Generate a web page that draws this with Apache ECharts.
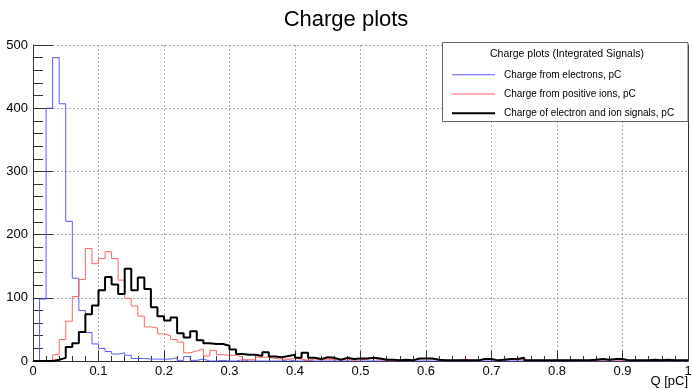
<!DOCTYPE html>
<html><head><meta charset="utf-8">
<script src="https://cdn.jsdelivr.net/npm/echarts@6/dist/echarts.min.js"></script>
<style>html,body{margin:0;padding:0;background:#fff}#c{width:692px;height:389px}</style>
</head><body><div id="c"></div>
<script>
const FONT = '"Liberation Sans", Arial, Helvetica, sans-serif';
const binWidth = 0.01;
const seriesNames = ['Charge from electrons, pC', 'Charge from positive ions, pC', 'Charge of electron and ion signals, pC'];
const electrons = [
  0,98,400,480,407,221,131,80,45,27,
  20,15,11,13,9,4,4,3,3,3,
  3,5,1,7,1,3,0,0,1,0,
  0,2,0,0,0,0,0,0,2,0,
  0,1,0,0,0,0,0,0,0,0,
  0,0,0,0,0,0,0,0,0,0,
  0,0,0,0,0,0,0,0,0,0,
  0,0,0,0,0,0,0,0,0,0,
  0,0,0,0,0,0,0,0,0,0,
  0,0,0,0,0,0,0,0,0,0
];
const ions = [
  0,0,0,10,34,63,102,129,178,154,
  162,173,162,128,99,87,71,54,52,43,
  40,34,30,13,16,19,8,17,10,9,
  9,6,2,2,6,6,4,3,3,4,
  3,1,3,2,3,2,2,3,1,2,
  3,4,2,1,1,1,1,1,3,4,
  3,1,1,1,1,3,1,1,3,3,
  1,3,3,3,2,1,1,1,1,2,
  1,1,2,0,1,1,2,1,2,1,
  1,1,0,1,1,1,1,1,0,1
];
const combined = [
  0,0,0,2,5,22,28,46,74,88,
  112,133,121,106,146,112,132,114,85,71,
  64,69,44,37,47,33,28,27,27,24,
  18,11,10,10,8,14,7,6,8,10,
  5,13,5,3,6,5,2,5,3,4,
  4,5,4,2,2,1,2,1,4,4,
  4,2,1,1,1,1,1,1,3,3,
  1,2,3,3,5,1,1,1,1,1,
  1,1,1,1,1,2,3,2,3,3,
  1,1,1,1,2,1,2,1,1,1
];
const xTicks = { min: 0, max: 1, interval: 0.1 };
const yTicks = { min: 0, max: 500, interval: 100 };

function toSteps(vals) {
  const pts = vals.map((v, i) => [+(i * binWidth).toFixed(2), v]);
  pts.push([+(vals.length * binWidth).toFixed(2), vals[vals.length - 1]]);
  return pts;
}

const axisColor = '#333';
const gridColor = '#aaa';
const blue = '#5a5aff';
const red = '#ff6464';
const chart = echarts.init(document.getElementById('c'), null, { renderer: 'canvas' });
chart.setOption({
  animation: false,
  backgroundColor: '#fff',
  title: {
    text: 'Charge plots', left: 'center', top: 4,
    textStyle: { fontSize: 22, fontWeight: 'normal', color: '#000', fontFamily: FONT }
  },
  grid: { left: 33, right: 4, top: 45, bottom: 28, containLabel: false, outerBoundsMode: 'none' },
  xAxis: {
    type: 'value', min: xTicks.min, max: xTicks.max, interval: xTicks.interval,
    name: 'Q [pC]', nameLocation: 'end', nameGap: 0, nameMoveOverlap: false,
    nameTextStyle: { fontSize: 13, color: '#000', fontFamily: FONT, align: 'right', verticalAlign: 'top', padding: [14, 0, 0, 0] },
    axisLine: { show: true, onZero: false, lineStyle: { color: axisColor, width: 1 } },
    axisTick: { show: true, inside: true, length: 10, lineStyle: { color: axisColor } },
    minorTick: { show: true, splitNumber: 5, length: 5, lineStyle: { color: axisColor } },
    splitLine: { show: true, lineStyle: { color: gridColor, type: [2, 2], width: 1 } },
    axisLabel: { fontSize: 13, color: '#000', fontFamily: FONT, margin: 4,
      formatter: v => (v === 0 ? '0' : (Math.abs(v - 1) < 1e-9 ? '1' : v.toFixed(1))) }
  },
  yAxis: [{
    type: 'value', min: yTicks.min, max: yTicks.max, interval: yTicks.interval,
    axisLine: { show: true, lineStyle: { color: axisColor, width: 1 } },
    axisTick: { show: true, inside: true, length: 20, lineStyle: { color: axisColor } },
    minorTick: { show: true, splitNumber: 5, length: 10, lineStyle: { color: axisColor } },
    splitLine: { show: true, lineStyle: { color: gridColor, type: [2, 2], width: 1 } },
    axisLabel: { fontSize: 13, color: '#000', fontFamily: FONT, margin: 5 }
  }, {
    type: 'value', position: 'right', min: yTicks.min, max: yTicks.max, interval: yTicks.interval,
    axisLine: { show: true, lineStyle: { color: axisColor, width: 1 } },
    axisTick: { show: false }, axisLabel: { show: false }, splitLine: { show: false }
  }],
  legend: {
    orient: 'vertical', left: 452, top: 69.8, padding: 0,
    itemWidth: 43, itemHeight: 14, itemGap: 9.2, z: 20, symbolKeepAspect: true,
    data: [
      { name: seriesNames[0], icon: 'path://M0,0H43V1H0Z', itemStyle: { color: blue, borderWidth: 0, opacity: 1 } },
      { name: seriesNames[1], icon: 'path://M0,0H43V1H0Z', itemStyle: { color: red, borderWidth: 0, opacity: 1 } },
      { name: seriesNames[2], icon: 'path://M0,0H43V2H0Z', itemStyle: { color: '#000', borderWidth: 0, opacity: 1 } }
    ],
    textStyle: { fontSize: 10, color: '#000', fontFamily: FONT, padding: [0, 0, 0, 4] }
  },
  graphic: [
    { type: 'rect', z: 15, shape: { x: 442.5, y: 42.5, width: 245.5, height: 79 },
      style: { fill: '#fff', stroke: '#666', lineWidth: 1 } },
    { type: 'text', z: 20, x: 567, y: 54,
      style: { text: 'Charge plots (Integrated Signals)', fontSize: 10.5, fontFamily: FONT, fill: '#000', align: 'center', verticalAlign: 'middle' } }
  ],
  series: [
    { name: seriesNames[0], type: 'line', step: 'end', symbol: 'none', showSymbol: false, z: 2,
      data: toSteps(electrons), lineStyle: { color: blue, width: 1 }, itemStyle: { color: blue } },
    { name: seriesNames[1], type: 'line', step: 'end', symbol: 'none', showSymbol: false, z: 2,
      data: toSteps(ions), lineStyle: { color: red, width: 1 }, itemStyle: { color: red } },
    { name: seriesNames[2], type: 'line', step: 'end', symbol: 'none', showSymbol: false, z: 3,
      data: toSteps(combined), lineStyle: { color: '#000', width: 2 }, itemStyle: { color: '#000' } }
  ]
});
</script></body></html>
